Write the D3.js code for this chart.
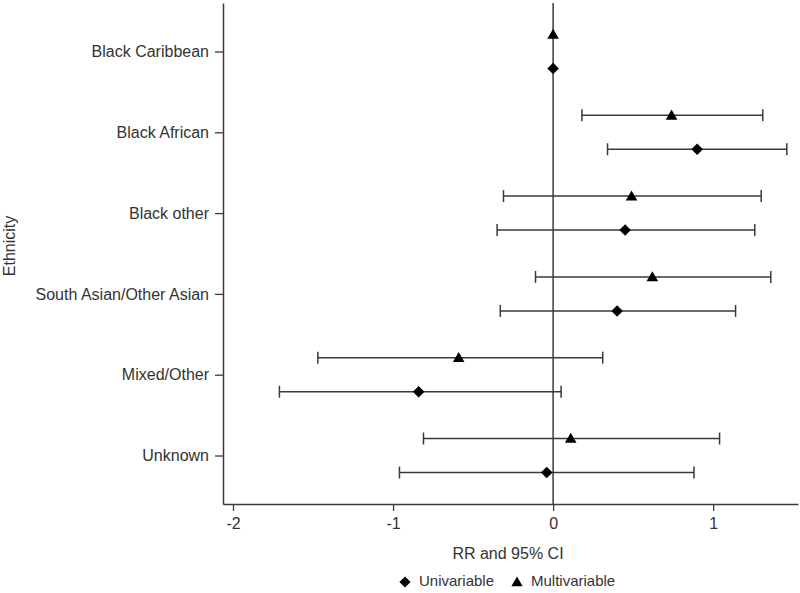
<!DOCTYPE html>
<html>
<head>
<meta charset="utf-8">
<script src="https://cdn.jsdelivr.net/npm/d3@7"></script>
<style>
  body { margin: 0; background: #fff; }
  text { font-family: "Liberation Sans", Arial, sans-serif; fill: #333; }
</style>
</head>
<body>
<div id="chart"></div>
<script>
// Chart data
const categories = ["Black Caribbean", "Black African", "Black other",
  "South Asian/Other Asian", "Mixed/Other", "Unknown"];
const uniEst   = [0, 0.90, 0.45, 0.40, -0.84, -0.04];
const uniLow   = [null, 0.34, -0.35, -0.33, -1.71, -0.96];
const uniHigh  = [null, 1.46, 1.26, 1.14, 0.05, 0.88];
const multiEst  = [0, 0.74, 0.49, 0.62, -0.59, 0.11];
const multiLow  = [null, 0.18, -0.31, -0.11, -1.47, -0.81];
const multiHigh = [null, 1.31, 1.30, 1.36, 0.31, 1.04];
const xTicks = [-2, -1, 0, 1];
const legendLabels = ["Univariable", "Multivariable"];

const width = 800;
const height = 593;
const lineColor = "#3a3a3a";

const svg = d3.select("#chart")
  .append("svg")
    .attr("width", width)
    .attr("height", height);

// Scales
const x = d3.scaleLinear().domain([-2.0625, 1.53]).range([223, 798]);
const y = d3.scaleLinear().domain([-0.6, 5.6]).range([3, 504]);
const offset = 17; // vertical gap between the two series in a category

// Axes
const xAxis = svg.append("g")
  .attr("transform", `translate(0, ${y.range()[1]})`)
  .call(d3.axisBottom(x).tickValues(xTicks).tickSize(7).tickPadding(7)
    .tickFormat(d => String(d)).tickSizeOuter(0));

const yAxis = svg.append("g")
  .attr("transform", `translate(${x.range()[0]}, 0)`)
  .call(d3.axisLeft(y).tickValues(d3.range(categories.length)).tickSize(8)
    .tickPadding(6).tickFormat(i => categories[i]).tickSizeOuter(0));

[xAxis, yAxis].forEach(ax => {
  ax.select(".domain").attr("stroke", lineColor).attr("stroke-width", 1.5);
  ax.selectAll(".tick line").attr("stroke", lineColor).attr("stroke-width", 1.3);
  ax.selectAll(".tick text")
    .style("font-family", "'Liberation Sans', Arial, sans-serif")
    .style("font-size", "16px")
    .attr("fill", "#333");
});

// Reference line at 0
svg.append("line")
  .attr("x1", x(0)).attr("x2", x(0))
  .attr("y1", y.range()[0]).attr("y2", y.range()[1])
  .attr("stroke", lineColor)
  .attr("stroke-width", 1.5);

// Build rows for each series
const rows = [];
categories.forEach((c, i) => {
  rows.push({ i, series: "multi", est: multiEst[i], lo: multiLow[i], hi: multiHigh[i], dy: -offset });
  rows.push({ i, series: "uni", est: uniEst[i], lo: uniLow[i], hi: uniHigh[i], dy: offset });
});

const withCI = rows.filter(d => d.lo !== null);

// Error bars
const bars = svg.append("g").selectAll("g")
  .data(withCI)
  .enter()
  .append("g")
  .attr("stroke", lineColor)
  .attr("stroke-width", 1.5);

bars.append("line")
  .attr("x1", d => x(d.lo)).attr("x2", d => x(d.hi))
  .attr("y1", d => y(d.i) + d.dy).attr("y2", d => y(d.i) + d.dy);

bars.append("line")
  .attr("x1", d => x(d.lo)).attr("x2", d => x(d.lo))
  .attr("y1", d => y(d.i) + d.dy - 6).attr("y2", d => y(d.i) + d.dy + 6);

bars.append("line")
  .attr("x1", d => x(d.hi)).attr("x2", d => x(d.hi))
  .attr("y1", d => y(d.i) + d.dy - 6).attr("y2", d => y(d.i) + d.dy + 6);

// Markers
const diamond = d3.symbol().type(d3.symbolDiamond2).size(85);
const triangle = d3.symbol().type(d3.symbolTriangle).size(58);

svg.append("g").selectAll("path")
  .data(rows)
  .enter()
  .append("path")
  .attr("d", d => d.series === "uni" ? diamond() : triangle())
  .attr("transform", d => `translate(${x(d.est)}, ${y(d.i) + d.dy + (d.series === "multi" ? 1 : 0)})`)
  .attr("fill", "#000");

// Axis titles
svg.append("text")
  .attr("x", 508)
  .attr("y", 555)
  .attr("text-anchor", "middle")
  .attr("dominant-baseline", "middle")
  .style("font-size", "16px")
  .text("RR and 95% CI");

svg.append("text")
  .attr("transform", "translate(11, 246) rotate(-90)")
  .attr("text-anchor", "middle")
  .attr("dominant-baseline", "middle")
  .style("font-size", "16px")
  .text("Ethnicity");

// Legend
const legend = svg.append("g").attr("transform", "translate(0, 582)");
const legendX = [405, 517];
legendLabels.forEach((label, k) => {
  legend.append("path")
    .attr("d", k === 0 ? d3.symbol().type(d3.symbolDiamond2).size(80)()
                       : d3.symbol().type(d3.symbolTriangle).size(55)())
    .attr("transform", `translate(${legendX[k]}, ${k === 0 ? 0 : 1})`)
    .attr("fill", "#000");
  legend.append("text")
    .attr("x", legendX[k] + 14)
    .attr("y", 0)
    .attr("dominant-baseline", "middle")
    .style("font-size", "15px")
    .text(label);
});
</script>
</body>
</html>
